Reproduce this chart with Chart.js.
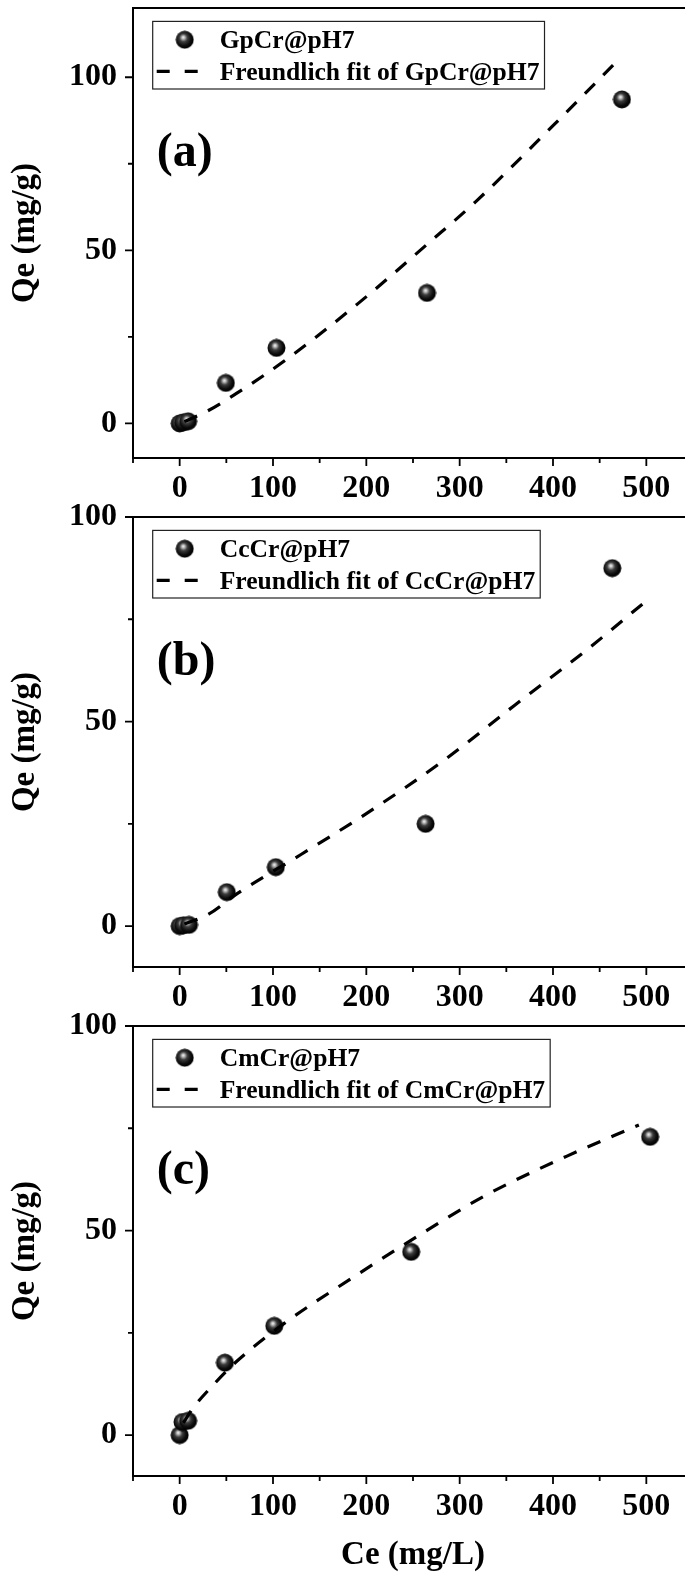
<!DOCTYPE html>
<html>
<head>
<meta charset="utf-8">
<script src="https://cdn.jsdelivr.net/npm/chart.js@4.4.0/dist/chart.umd.min.js"></script>
<style>
  html, body { margin: 0; padding: 0; background: #fff; }
  body { width: 685px; height: 1579px; overflow: hidden; position: relative; }
  canvas { position: absolute; left: 0; }
</style>
</head>
<body>
<canvas id="panelA" width="705" height="540" style="top:-32px"></canvas>
<canvas id="panelB" width="705" height="540" style="top:477px"></canvas>
<canvas id="panelC" width="705" height="593" style="top:986px"></canvas>
<script>
// axis ticks
const xTicks = [-50, 0, 50, 100, 150, 200, 250, 300, 350, 400, 450, 500, 550];
const yTicks = [0, 25, 50, 75, 100];

// (a) GpCr@pH7
const ceA = [0, 4, 9, 49.5, 103.7, 265, 473.8];
const qeA = [0, 0.3, 0.6, 11.7, 21.8, 37.7, 93.6];
const fitCeA = [5, 30, 60, 112, 191, 268, 317, 400, 467];
const fitQeA = [0.5, 3.6, 8.5, 18, 34.6, 52.4, 64, 86, 104.2];

// (b) CcCr@pH7
const ceB = [0, 4, 10, 50.5, 103, 263.5, 463.5];
const qeB = [0, 0.2, 0.3, 8.3, 14.4, 25, 87.5];
const fitCeB = [5, 31, 62, 130, 200, 280, 359, 436, 500];
const fitQeB = [0.5, 2.9, 8, 17.5, 27.5, 40, 54, 67.5, 79.5];

// (c) CmCr@pH7
const ceC = [0, 3, 9, 48.5, 101.4, 248, 504];
const qeC = [0, 3.2, 3.5, 17.7, 26.7, 44.8, 72.9];
const fitCeC = [4, 14, 37, 60, 112, 182, 252, 327, 415, 492];
const fitQeC = [3, 6.5, 12.5, 17.8, 27.3, 38, 48.2, 58.5, 68.2, 75.8];

const FONT = '"Liberation Serif", "Times New Roman", serif';
Chart.defaults.font.family = FONT;
Chart.defaults.font.weight = 'bold';
Chart.defaults.color = '#000';

// shaded black ball marker
const ball = document.createElement('canvas');
ball.width = 19; ball.height = 19;
(function () {
  const g = ball.getContext('2d');
  const grad = g.createRadialGradient(8, 7, 0, 8.5, 8.5, 10);
  grad.addColorStop(0, '#ffffff');
  grad.addColorStop(0.15, '#bdbdbd');
  grad.addColorStop(0.4, '#3c3c3c');
  grad.addColorStop(0.75, '#0c0c0c');
  grad.addColorStop(1, '#000');
  g.fillStyle = grad;
  g.beginPath();
  g.arc(9.5, 9.5, 9, 0, Math.PI * 2);
  g.fill();
})();

// frame + outward ticks
const frameTicks = {
  id: 'frameTicks',
  afterDraw(chart) {
    const { ctx, chartArea: a, scales: { x, y } } = chart;
    ctx.save();
    ctx.strokeStyle = '#000';
    ctx.lineWidth = 2;
    ctx.strokeRect(a.left, a.top, a.right - a.left, a.bottom - a.top);
    ctx.lineWidth = 1.8;
    ctx.beginPath();
    x.ticks.forEach(t => {
      const px = x.getPixelForValue(t.value);
      const len = t.value % 100 === 0 ? 8 : 5;
      ctx.moveTo(px, a.bottom);
      ctx.lineTo(px, a.bottom + len);
    });
    y.ticks.forEach(t => {
      const py = y.getPixelForValue(t.value);
      const len = t.value % 50 === 0 ? 8 : 5;
      ctx.moveTo(a.left, py);
      ctx.lineTo(a.left - len, py);
    });
    ctx.stroke();
    ctx.restore();
  }
};

// legend box inside plot + panel letter
const boxLegend = {
  id: 'boxLegend',
  afterDraw(chart, args, opts) {
    const { ctx, chartArea: a } = chart;
    const ds = chart.data.datasets;
    const left = a.left + 19.7, top = a.top + 13.4;
    ctx.save();
    ctx.font = 'bold 25.6px ' + FONT;
    const tx = left + 67;
    const w = Math.max(...ds.map(d => ctx.measureText(d.label).width));
    ctx.strokeStyle = '#222';
    ctx.lineWidth = 1.2;
    ctx.strokeRect(left, top, tx + w + 5 - left, 67.6);
    ctx.drawImage(ball, left + 32 - 9.5, top + 18.3 - 9.5);
    ctx.strokeStyle = '#000';
    ctx.lineWidth = 3.2;
    ctx.beginPath();
    ctx.moveTo(left + 4, top + 50); ctx.lineTo(left + 17, top + 50);
    ctx.moveTo(left + 32, top + 50); ctx.lineTo(left + 45, top + 50);
    ctx.stroke();
    ctx.fillStyle = '#000';
    ctx.textBaseline = 'alphabetic';
    ctx.fillText(ds[1].label, tx, top + 26.8);
    ctx.fillText(ds[0].label, tx, top + 58.3);
    ctx.font = 'bold 48px ' + FONT;
    ctx.fillText(opts.tag, a.left + 23.7, a.top + 158.4);
    ctx.restore();
  }
};

function pts(xs, ys) {
  return xs.map((v, i) => ({ x: v, y: ys[i] }));
}

function makePanel(id, tag, name, ce, qe, fitCe, fitQe, yMin, yMax, xAxisH, showXTitle) {
  new Chart(document.getElementById(id), {
    type: 'scatter',
    data: {
      datasets: [
        {
          label: 'Freundlich fit of ' + name,
          data: pts(fitCe, fitQe),
          showLine: true,
          borderColor: '#000',
          borderWidth: 3.2,
          borderDash: [14, 12],
          cubicInterpolationMode: 'monotone',
          pointRadius: 0,
          order: 1
        },
        {
          label: name,
          data: pts(ce, qe),
          showLine: false,
          pointStyle: ball,
          pointRadius: 9,
          order: 2
        }
      ]
    },
    options: {
      responsive: false,
      animation: false,
      devicePixelRatio: 1,
      layout: { padding: { top: 40, right: 12, left: 0, bottom: 0 } },
      plugins: {
        legend: { display: false },
        tooltip: { enabled: false },
        boxLegend: { tag: tag }
      },
      scales: {
        x: {
          type: 'linear',
          min: -50,
          max: 550,
          afterBuildTicks: s => { s.ticks = xTicks.map(v => ({ value: v })); },
          afterFit: s => { s.height = xAxisH; },
          grid: { display: false, drawTicks: false },
          border: { display: false },
          ticks: {
            autoSkip: false,
            maxRotation: 0,
            padding: 12,
            font: { size: 32, weight: 'bold' },
            callback: v => (v >= 0 && v <= 500 && v % 100 === 0) ? String(v) : ''
          },
          title: {
            display: showXTitle,
            text: 'Ce (mg/L)',
            font: { size: 33, weight: 'bold', lineHeight: 1 },
            padding: { top: 0, bottom: 7.5 }
          }
        },
        y: {
          type: 'linear',
          min: yMin,
          max: yMax,
          afterBuildTicks: s => { s.ticks = yTicks.map(v => ({ value: v })); },
          afterFit: s => { s.width = 133; },
          grid: { display: false, drawTicks: false },
          border: { display: false },
          ticks: {
            padding: 16,
            font: { size: 32, weight: 'bold' },
            callback: v => (v % 50 === 0) ? String(v) : ''
          },
          title: {
            display: true,
            text: 'Qe (mg/g)',
            font: { size: 33, weight: 'bold', lineHeight: 1 },
            padding: { top: 8.5, bottom: 0 }
          }
        }
      }
    },
    plugins: [frameTicks, boxLegend]
  });
}

makePanel('panelA', '(a)', 'GpCr@pH7', ceA, qeA, fitCeA, fitQeA, -10, 120, 50, false);
makePanel('panelB', '(b)', 'CcCr@pH7', ceB, qeB, fitCeB, fitQeB, -10, 100, 50, false);
makePanel('panelC', '(c)', 'CmCr@pH7', ceC, qeC, fitCeC, fitQeC, -10, 100, 103, true);
</script>
</body>
</html>
